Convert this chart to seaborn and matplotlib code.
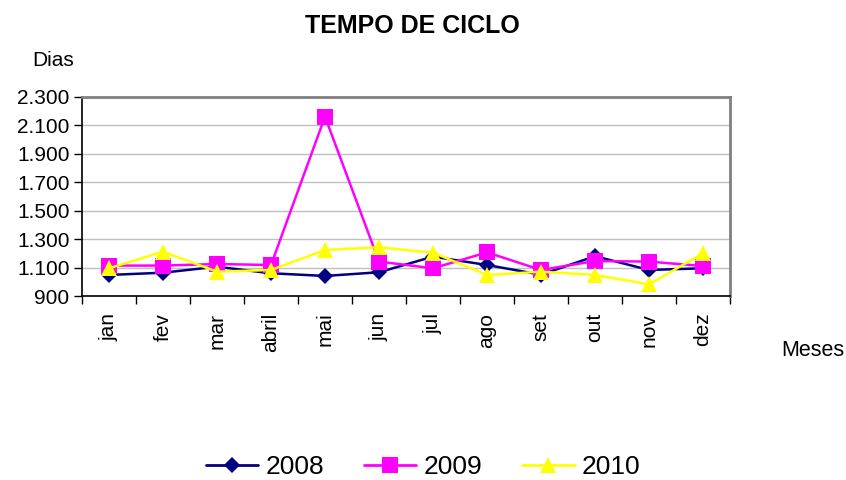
import matplotlib
matplotlib.use("Agg")
import matplotlib.pyplot as plt
import seaborn as sns
import pandas as pd
import numpy as np
from matplotlib.ticker import FuncFormatter, FixedLocator
from matplotlib.lines import Line2D

meses = ["jan", "fev", "mar", "abril", "mai", "jun", "jul", "ago", "set", "out", "nov", "dez"]
v2008 = [1048, 1064, 1106, 1060, 1041, 1067, 1177, 1118, 1050, 1180, 1083, 1095]
v2009 = [1114, 1114, 1125, 1118, 2162, 1142, 1095, 1207, 1083, 1146, 1142, 1111]
v2010 = [1095, 1212, 1071, 1083, 1224, 1243, 1205, 1048, 1071, 1048, 982, 1200]
anos = ["2008", "2009", "2010"]
cores = {"2008": "#000080", "2009": "#FF00FF", "2010": "#FFFF00"}
marcadores = {"2008": "D", "2009": "s", "2010": "^"}
tamanhos = {"2008": 8.5, "2009": 11, "2010": 11}

sns.set_theme(style="white")
plt.rcParams["font.family"] = ["Liberation Sans", "DejaVu Sans"]
plt.rcParams["text.color"] = "black"
plt.rcParams["xtick.color"] = "black"
plt.rcParams["ytick.color"] = "black"
plt.rcParams["xtick.labelcolor"] = "black"
plt.rcParams["ytick.labelcolor"] = "black"

df = pd.concat([
    pd.DataFrame({"x": np.arange(len(meses)), "mes": meses, "valor": vals, "ano": ano})
    for ano, vals in zip(anos, [v2008, v2009, v2010])
])

fig = plt.figure(figsize=(8.46, 4.8), dpi=100)
ax = fig.add_axes([82 / 846, 1 - 296 / 480, 648 / 846, 199 / 480])

for ano in anos:
    sns.lineplot(data=df[df["ano"] == ano], x="x", y="valor", color=cores[ano],
                 marker=marcadores[ano], markersize=tamanhos[ano], markeredgewidth=0,
                 linewidth=1.8, ax=ax, legend=False, zorder=3)

ax.set_xlim(-0.5, 11.5)
ax.set_ylim(900, 2300)
ax.set_yticks(np.arange(900, 2301, 200))
ax.yaxis.set_major_formatter(FuncFormatter(lambda v, p: f"{int(v):,}".replace(",", ".")))
ax.set_xticks(np.arange(12))
ax.set_xticklabels(meses, rotation=90, fontsize=15)
ax.tick_params(axis="x", which="major", length=0, pad=12)
ax.xaxis.set_minor_locator(FixedLocator(np.arange(-0.5, 12, 1)))
ax.tick_params(axis="x", which="minor", length=6, width=1, color="black", direction="out", bottom=True)
ax.tick_params(axis="y", length=6, width=1, color="black", direction="out", left=True, labelsize=15, pad=3)
ax.set_xlabel("")
ax.set_ylabel("")
ax.grid(axis="y", color="#c0c0c0", linewidth=1)
ax.set_axisbelow(True)
for s in ["left", "bottom"]:
    ax.spines[s].set_color("black")
    ax.spines[s].set_linewidth(1.2)
for s in ["top", "right"]:
    ax.spines[s].set_color("#808080")
    ax.spines[s].set_linewidth(2)

fig.text(0.488, 0.945, "TEMPO DE CICLO", ha="center", va="center", fontsize=18, fontweight="bold")
fig.text(0.063, 0.875, "Dias", ha="center", va="center", fontsize=15)
fig.text(0.961, 0.27, "Meses", ha="center", va="center", fontsize=15.5)

handles = [Line2D([0], [0], color=cores[a], marker=marcadores[a], markersize=tamanhos[a],
                  markeredgewidth=0, linewidth=2) for a in anos]
fig.legend(handles, anos, loc="center", bbox_to_anchor=(0.5, 0.027), ncol=3, frameon=False,
           fontsize=19, handlelength=2.0, columnspacing=1.5, handletextpad=0.27,
           borderpad=0, borderaxespad=0)

fig.savefig("out.png", dpi=100)
